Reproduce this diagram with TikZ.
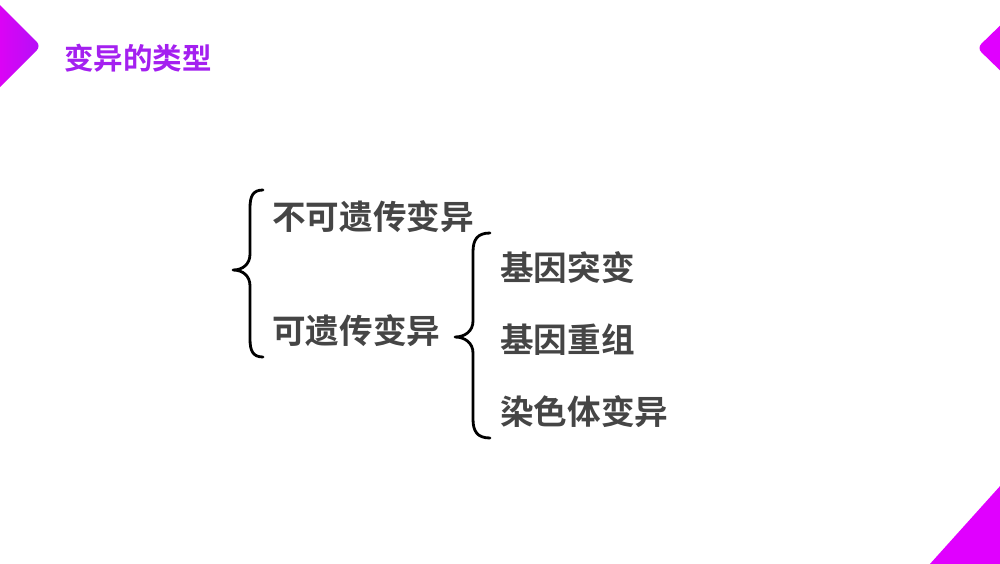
\documentclass[tikz,border=0pt]{standalone}
\usepackage{fontspec}
\newfontfamily\cjkb{Noto Sans CJK SC Bold}
\usetikzlibrary{shadings}
\definecolor{titlepurple}{HTML}{A420F0}
\definecolor{txtgray}{HTML}{454545}
\definecolor{mag}{HTML}{E000FF}
\definecolor{magL}{HTML}{E400F4}
\definecolor{magR}{HTML}{B410F8}
\tikzset{
  bodytext/.style={font=\cjkb\fontsize{33.6}{33.6}\selectfont, text=txtgray, anchor=west, inner sep=0pt},
  titletext/.style={font=\cjkb\fontsize{29.5}{29.5}\selectfont, text=titlepurple, anchor=west, inner sep=0pt},
  bracestyle/.style={line width=2.8pt, black, line cap=round, line join=round},
}
\begin{document}
\begin{tikzpicture}[x=1pt,y=-1pt]
\useasboundingbox (0,0) rectangle (1000,563);
\fill[white] (0,0) rectangle (1000,563);
% decorative shapes
\shade[left color=magL, right color=magR, rounded corners=6pt] (-10,-5) -- (41,46) -- (-10,97) -- cycle;
\fill[mag, rounded corners=6pt] (1012,14) -- (977,48) -- (1012,82) -- cycle;
\fill[mag, rounded corners=8pt] (920,575) -- (1010,475) -- (1010,575) -- cycle;
% title
\node[titletext] (title) at (64,58) {变异的类型};
% texts
\node[bodytext] (nonher) at (272,217) {不可遗传变异};
\node[bodytext] (her) at (272,331) {可遗传变异};
\node[bodytext] (gm) at (500,268) {基因突变};
\node[bodytext] (gr) at (500,340) {基因重组};
\node[bodytext] (cv) at (500,412) {染色体变异};
% braces
\draw[bracestyle] (263,190) .. controls (253,190) and (250,196) .. (250,208) -- (250,254)
  .. controls (250,264) and (243,270) .. (233,270)
  .. controls (243,270) and (250,276) .. (250,286) -- (250,339)
  .. controls (250,351) and (253,357) .. (263,357);
\draw[bracestyle] (490,233) .. controls (477,233) and (473,240) .. (473,252) -- (473,321)
  .. controls (473,331) and (465,337) .. (455,337)
  .. controls (465,337) and (473,343) .. (473,353) -- (473,419)
  .. controls (473,431) and (477,438) .. (490,438);
\end{tikzpicture}
\end{document}
